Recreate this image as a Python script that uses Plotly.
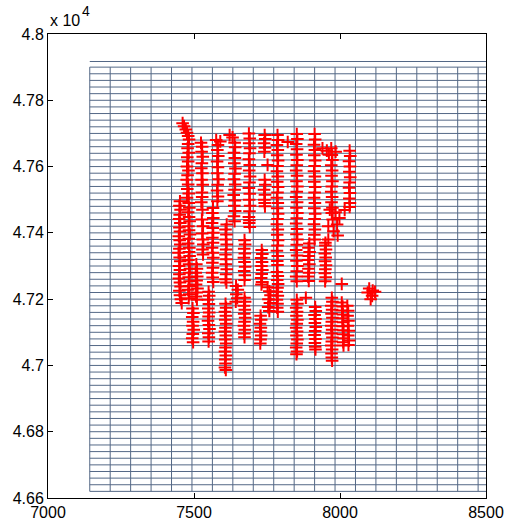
import plotly.graph_objects as go

# ---------------- axis / tick data ----------------
x_ticks = [7000, 7500, 8000, 8500]
x_ticklabels = ["7000", "7500", "8000", "8500"]
y_ticks = [46600, 46800, 47000, 47200, 47400, 47600, 47800, 48000]
y_ticklabels = ["4.66", "4.68", "4.7", "4.72", "4.74", "4.76", "4.78", "4.8"]
exponent_base = "x 10"
exponent_power = "4"

# ---------------- mesh (grid cells) ----------------
mesh_cols = [7143, 7213, 7283, 7353, 7423, 7493, 7563, 7633, 7703, 7773,
             7843, 7913, 7983, 8053, 8123, 8193, 8263, 8333, 8403, 8473, 8543]
mesh_rows = [46620, 46640, 46660, 46680, 46700, 46720, 46740, 46760, 46780, 46800,
             46820, 46840, 46860, 46880, 46900, 46920, 46940, 46960, 46980, 47000,
             47020, 47040, 47060, 47080, 47100, 47120, 47140, 47160, 47180, 47200,
             47220, 47240, 47260, 47280, 47300, 47320, 47340, 47360, 47380, 47400,
             47420, 47440, 47460, 47480, 47500, 47520, 47540, 47560, 47580, 47600,
             47620, 47640, 47660, 47680, 47700, 47720, 47740, 47760, 47780, 47800,
             47820, 47840, 47860, 47880, 47900]
mesh_top_edge = 47917

# ---------------- survey points (east, north) ----------------
strip_01 = [(7461,47731),(7466,47722),(7472,47712),(7476,47702),(7480,47692),(7483,47682),
            (7480,47668),(7478,47655),(7482,47642),(7477,47628),(7480,47615),(7476,47600),
            (7481,47588),(7478,47574),(7475,47560),(7480,47546),(7477,47532),(7482,47519),
            (7476,47506),
            (7452,47495),(7450,47482),(7454,47470),(7451,47455),(7449,47442),(7453,47430),
            (7450,47416),(7452,47404),(7448,47390),(7451,47378),(7453,47365),(7450,47352),
            (7447,47340),(7451,47326),(7453,47314),(7449,47300),(7452,47288),(7450,47275),
            (7448,47262),(7452,47250),(7454,47238),(7450,47225),(7452,47212),(7455,47200),
            (7458,47188),
            (7482,47490),(7484,47476),(7480,47462),(7483,47448),(7485,47435),(7481,47420),
            (7483,47408),(7486,47395),(7482,47382),(7480,47368),(7484,47355),(7483,47342),
            (7485,47330),(7481,47318),(7483,47305),(7486,47292),(7484,47280),(7482,47266),
            (7485,47254),(7483,47240),(7480,47228),(7484,47215),(7482,47203)]
strip_02 = [(7524,47672),(7528,47660),(7526,47645),(7530,47630),(7527,47610),(7525,47595),
            (7529,47580),(7526,47560),(7530,47545),(7527,47522),(7528,47508),(7525,47492),
            (7529,47470),(7527,47440),(7531,47420),(7528,47398),(7530,47380),(7532,47365),
            (7529,47350),(7531,47335),
            (7508,47305),(7510,47292),(7506,47280),(7511,47268),(7509,47256),(7507,47244),
            (7512,47232),(7509,47220),(7507,47208),(7510,47198),
            (7495,47172),(7498,47158),(7494,47146),(7497,47132),(7495,47120),(7499,47108),
            (7496,47095),(7494,47082),(7497,47070)]
strip_03 = [(7576,47680),(7590,47676),(7582,47665),(7580,47650),(7583,47632),(7579,47615),
            (7582,47598),(7580,47580),(7584,47562),(7581,47545),(7579,47528),(7582,47510),
            (7580,47495),
            (7565,47475),(7563,47460),(7566,47445),(7562,47430),(7564,47415),(7566,47400),
            (7563,47385),(7565,47370),(7562,47355),(7564,47340),(7566,47325),(7563,47310),
            (7565,47295),(7562,47280),(7564,47265),(7566,47252),
            (7550,47222),(7552,47210),(7548,47198),(7551,47185),(7549,47172),(7552,47160),
            (7550,47148),(7548,47135),(7551,47122),(7553,47110),(7549,47097),(7551,47085),
            (7550,47072)]
strip_04 = [(7622,47695),(7632,47688),(7639,47672),(7641,47658),(7637,47642),(7640,47626),
            (7638,47610),(7642,47594),(7639,47578),(7637,47562),(7641,47546),(7639,47530),
            (7636,47514),(7640,47498),(7638,47482),(7641,47466),(7637,47450),(7639,47435),
            (7612,47425),(7608,47410),(7611,47395),(7609,47380),(7612,47365),(7610,47350),
            (7608,47335),(7611,47320),(7609,47305),(7612,47290),(7610,47275),(7608,47260),
            (7611,47250),
            (7644,47240),(7650,47228),(7645,47215),(7648,47203),(7643,47192),
            (7608,47186),(7610,47174),(7606,47162),(7609,47150),(7607,47138),(7610,47126),
            (7608,47114),(7606,47102),(7609,47090),(7607,47078),(7610,47066),(7608,47054),
            (7606,47042),(7609,47030),(7607,47018),(7608,47006),(7606,46994),(7609,46986)]
strip_05 = [(7688,47700),(7691,47685),(7689,47670),(7692,47655),(7690,47640),(7688,47622),
            (7691,47605),(7689,47588),(7692,47570),(7690,47552),(7688,47535),(7691,47518),
            (7689,47500),(7692,47482),(7690,47465),(7688,47448),(7690,47438),(7689,47430),
            (7691,47418),
            (7673,47378),(7675,47365),(7672,47352),(7674,47338),(7671,47325),(7673,47312),
            (7675,47298),(7672,47285),(7674,47272),(7673,47258),
            (7673,47204),(7675,47192),(7671,47180),(7674,47168),(7672,47156),(7675,47144),
            (7673,47132),(7671,47120),(7674,47108),(7672,47096),(7673,47085)]
strip_06 = [(7742,47695),(7744,47683),(7740,47670),(7743,47657),(7741,47645),
            (7752,47605),
            (7742,47560),(7744,47545),(7740,47530),(7743,47515),(7741,47500),(7742,47490),
            (7743,47480),
            (7732,47348),(7734,47336),(7730,47324),(7733,47312),(7731,47300),(7734,47288),
            (7732,47276),(7730,47264),(7733,47252),(7731,47244),
            (7752,47236),(7758,47224),(7762,47212),(7755,47200),(7760,47188),(7754,47176),
            (7758,47164),
            (7728,47150),(7730,47138),(7726,47126),(7729,47114),(7727,47102),(7730,47090),
            (7728,47078),(7727,47066)]
strip_07 = [(7786,47695),(7788,47680),(7784,47665),(7787,47650),(7785,47634),(7788,47618),
            (7786,47602),(7784,47586),(7787,47570),(7785,47554),(7788,47538),(7786,47522),
            (7784,47506),(7787,47490),(7785,47474),(7788,47458),(7786,47442),(7784,47426),
            (7787,47410),(7785,47394),(7788,47378),(7786,47362),(7784,47346),(7787,47330),
            (7785,47315),(7786,47303),
            (7784,47282),(7787,47270),(7785,47258),(7788,47246),(7786,47234),(7783,47222),
            (7787,47210),(7784,47198),(7786,47186),(7785,47174),(7787,47162),
            (7821,47674)]
strip_08 = [(7852,47698),(7854,47683),(7850,47668),(7853,47652),(7851,47636),(7854,47620),
            (7852,47604),(7850,47588),(7853,47572),(7851,47556),(7854,47540),(7852,47524),
            (7850,47508),(7853,47492),(7851,47476),(7854,47460),(7852,47444),(7850,47428),
            (7853,47412),(7851,47396),(7854,47380),(7852,47364),(7850,47348),(7853,47332),
            (7851,47316),(7854,47300),(7852,47284),(7850,47268),(7852,47254),
            (7852,47198),(7854,47186),(7850,47174),(7853,47162),(7851,47150),(7854,47138),
            (7852,47126),(7850,47114),(7853,47102),(7851,47090),(7854,47078),(7852,47066),
            (7850,47054),(7853,47042),(7851,47034),
            (7883,47204)]
strip_09 = [(7913,47698),(7915,47682),(7911,47666),(7914,47650),(7912,47634),(7915,47618),
            (7913,47602),(7911,47586),(7914,47570),(7912,47554),(7915,47538),(7913,47522),
            (7911,47506),(7914,47490),(7912,47474),(7915,47458),(7913,47442),(7911,47426),
            (7914,47410),(7912,47394),(7913,47380),
            (7895,47368),(7892,47355),(7896,47342),(7893,47330),(7891,47318),(7895,47305),
            (7892,47292),(7894,47280),(7891,47268),(7893,47255),
            (7915,47176),(7917,47164),(7913,47152),(7916,47140),(7914,47128),(7917,47116),
            (7915,47104),(7913,47092),(7916,47080),(7914,47068),(7915,47056),(7916,47048)]
strip_10 = [(7940,47655),(7955,47648),(7970,47655),(7985,47645),(7962,47636),
            (7972,47635),(7974,47620),(7970,47604),(7973,47588),(7971,47572),(7974,47556),
            (7972,47540),(7970,47524),(7973,47508),(7971,47492),(7974,47476),(7972,47460),
            (7965,47470),(7985,47462),(7998,47445),(7975,47440),(7990,47425),(7960,47420),
            (7978,47405),(7992,47392),(7960,47380),(7950,47370),
            (7950,47362),(7952,47350),(7948,47338),(7951,47326),(7949,47314),(7952,47302),
            (7950,47290),(7948,47278),(7951,47266),(7949,47254),
            (7972,47204),(7974,47192),(7970,47180),(7973,47168),(7971,47156),(7974,47144),
            (7972,47132),(7970,47120),(7973,47108),(7971,47096),(7974,47084),(7972,47072),
            (7970,47060),(7973,47048),(7971,47036),(7972,47024),(7973,47014)]
strip_11 = [(8033,47648),(8035,47632),(8031,47616),(8034,47600),(8032,47584),(8035,47568),
            (8033,47552),(8031,47536),(8034,47520),(8032,47504),(8034,47490),(8033,47478),
            (8016,47469),
            (8006,47246)]
strip_12 = [(8006,47190),(8009,47178),(8007,47166),(8010,47154),(8008,47142),(8011,47130),
            (8009,47118),(8012,47106),(8010,47094),(8012,47082),(8011,47070),(8012,47060),
            (8025,47180),(8028,47165),(8026,47150),(8029,47135),(8027,47120),(8030,47105),
            (8028,47090),(8031,47075),(8029,47062)]
strip_13 = [(8095,47220),(8110,47210),(8120,47222),(8105,47200),(8100,47232),(8112,47226)]

strips = [strip_01, strip_02, strip_03, strip_04, strip_05, strip_06, strip_07,
          strip_08, strip_09, strip_10, strip_11, strip_12, strip_13]

# ---------------- build figure ----------------
fig = go.Figure()

grid_color = "rgb(84,104,134)"

vx, vy = [], []
for c in mesh_cols:
    vx += [c, c, None]
    vy += [mesh_rows[0], mesh_rows[-1], None]
fig.add_trace(go.Scatter(x=vx, y=vy, mode="lines", line=dict(color=grid_color, width=1),
                         hoverinfo="skip", showlegend=False))
hx, hy = [], []
for r in mesh_rows + [mesh_top_edge]:
    hx += [mesh_cols[0], mesh_cols[-1], None]
    hy += [r, r, None]
fig.add_trace(go.Scatter(x=hx, y=hy, mode="lines", line=dict(color=grid_color, width=1),
                         hoverinfo="skip", showlegend=False))

px_, py_ = [], []
for s in strips:
    for (e, n) in s:
        px_.append(e)
        py_.append(n)
fig.add_trace(go.Scatter(x=px_, y=py_, mode="markers",
                         marker=dict(symbol="cross-thin", size=9, color="red",
                                     line=dict(color="red", width=2)),
                         showlegend=False))

axis_font = dict(family="Liberation Sans, Arial, sans-serif", size=16, color="black")

fig.update_xaxes(range=[7000, 8500], tickvals=x_ticks, ticktext=x_ticklabels,
                 showgrid=False, zeroline=False, showline=True, mirror="ticks",
                 linecolor="black", linewidth=1, ticks="inside", ticklen=5,
                 tickcolor="black", tickfont=axis_font, automargin=False)
fig.update_yaxes(range=[46600, 48000], tickvals=y_ticks, ticktext=y_ticklabels,
                 showgrid=False, zeroline=False, showline=True, mirror="ticks",
                 linecolor="black", linewidth=1, ticks="inside", ticklen=5,
                 tickcolor="black", tickfont=axis_font, automargin=False)

fig.add_annotation(text=exponent_base, xref="paper", yref="paper",
                   x=0, y=1.0, xanchor="left", yanchor="bottom", yshift=3,
                   showarrow=False, font=axis_font)
fig.add_annotation(text=exponent_power, xref="paper", yref="paper",
                   x=0, y=1.0, xanchor="left", yanchor="bottom", xshift=32, yshift=13,
                   showarrow=False, font=dict(family="Liberation Sans, Arial, sans-serif",
                                              size=14, color="black"))

fig.update_layout(width=512, height=525,
                  margin=dict(l=48, r=26, t=34, b=27, autoexpand=False),
                  plot_bgcolor="white", paper_bgcolor="white")

fig.write_html("out.html")
